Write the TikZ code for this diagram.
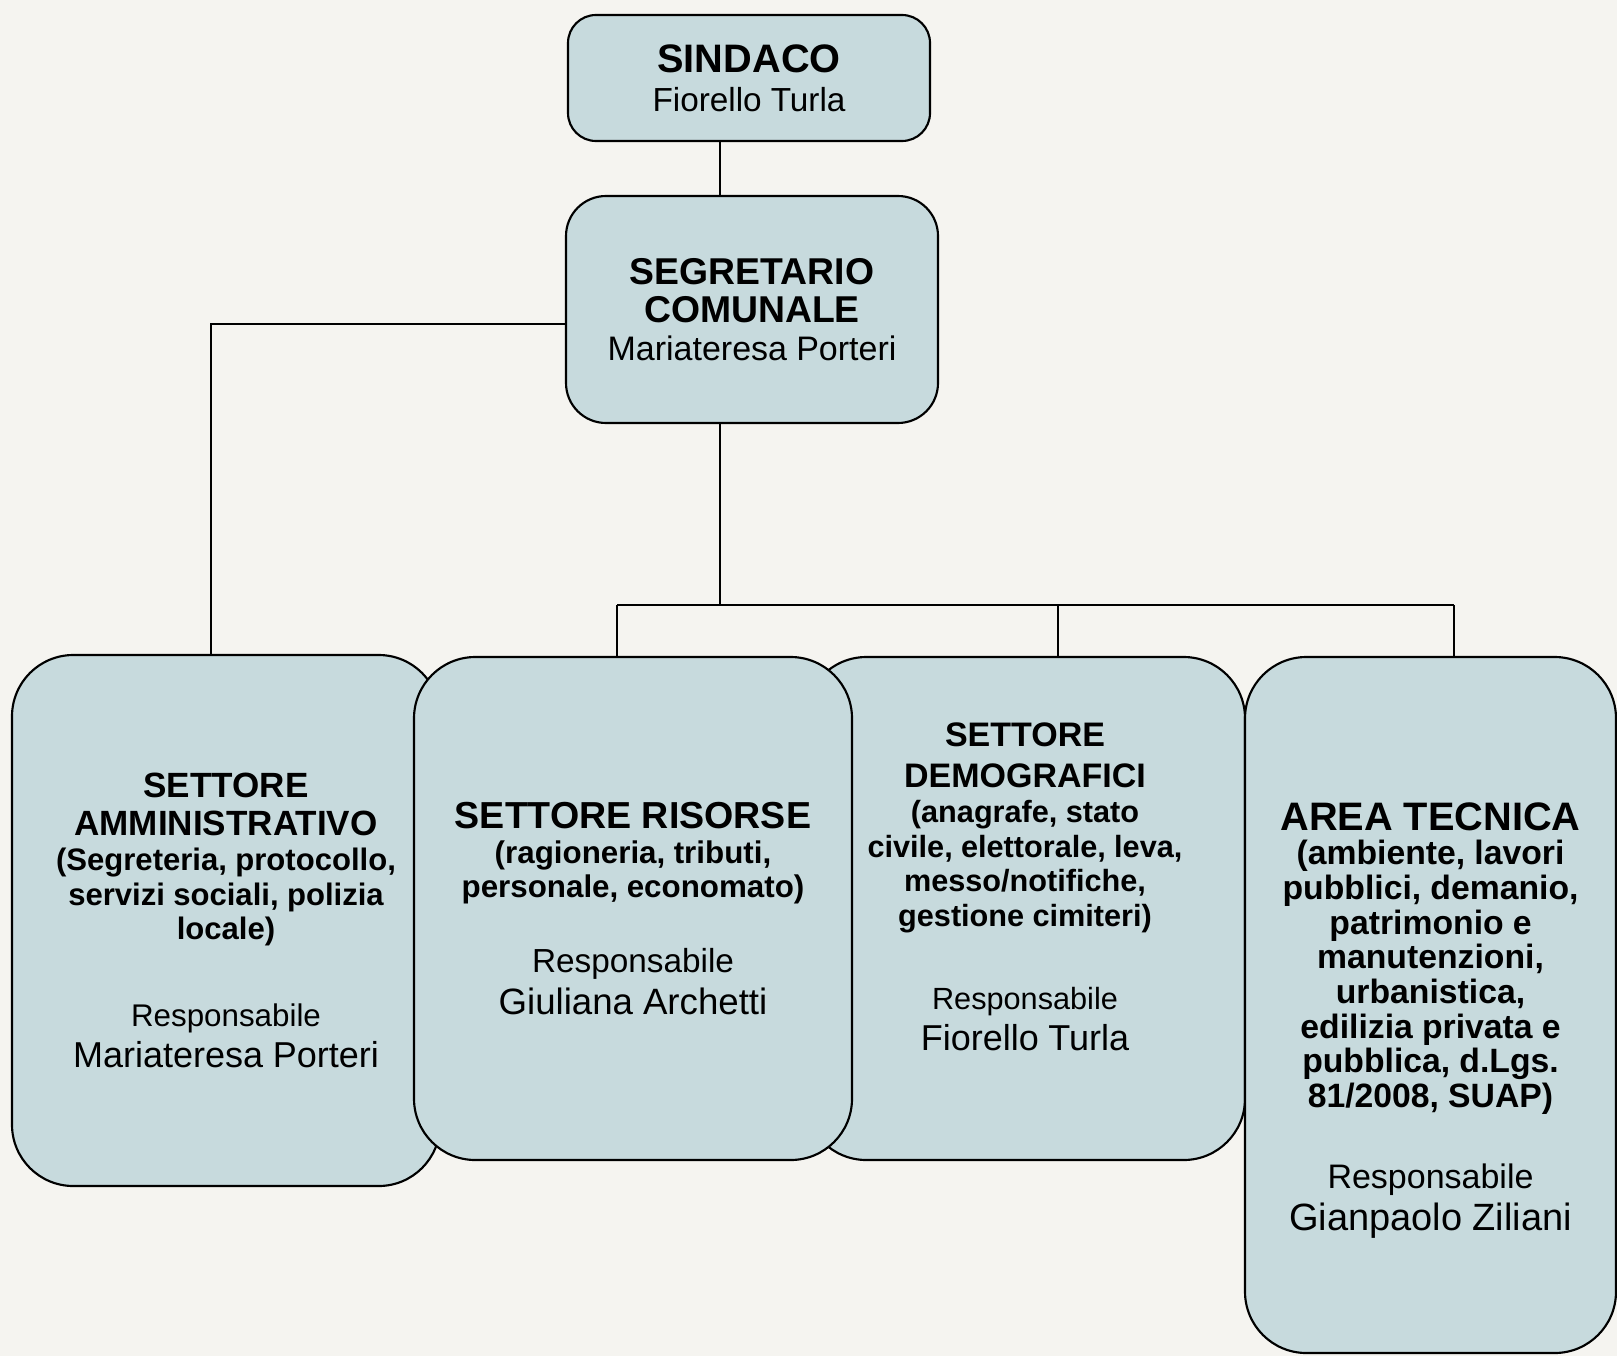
\documentclass[tikz,border=0pt]{standalone}
\usepackage{fontspec}
\setmainfont{Liberation Sans}
\setlength{\parindent}{0pt}
\definecolor{boxfill}{HTML}{C7DADD}
\definecolor{paper}{HTML}{F5F4F0}
\newcommand{\fsz}[2]{\fontsize{#1}{#2}\selectfont\spaceskip=0.27em\relax}

\begin{document}
\begin{tikzpicture}[x=0.75pt, y=-0.75pt,
    box/.style={draw, line width=1.6pt, fill=boxfill, outer sep=0pt, inner sep=0pt,
        align=center, rounded corners=46pt},
    link/.style={line width=1.2pt}]
    \fill[paper] (0,0) rectangle (1617,1356);
    \useasboundingbox (0,0) rectangle (1617,1356);
    \coordinate (spine) at (720,0);
    \coordinate (lft) at (211,324);
    \coordinate (bus) at (720,605);
    \coordinate (dr1) at (617,605);
    \coordinate (dr2) at (1058,605);
    \coordinate (dr3) at (1454,605);
    \node[box, rounded corners=21pt, minimum width=271.5pt, minimum height=94.5pt, text width=250pt]
        (sindaco) at (749,78)
        {\bfseries\fsz{29.8}{29}SINDACO\par\mdseries\fsz{25}{29}Fiorello Turla\par};
    \node[box, rounded corners=30pt, minimum width=279pt, minimum height=170.25pt, text width=260pt]
        (segretario) at (752,309.5)
        {\bfseries\fsz{28}{29}SEGRETARIO\\COMUNALE\par\mdseries\fsz{25.5}{28.5}Mariateresa Porteri\par};
    \node[box, minimum width=321pt, minimum height=398.25pt, text width=305pt]
        (amm) at (226,920.5)
        {\bfseries\fsz{26.3}{29}SETTORE\\AMMINISTRATIVO\par
         \fsz{23.3}{26}(Segreteria, protocollo,\\servizi sociali, polizia\\locale)\par
         \vspace{37pt}\mdseries\fsz{23.5}{28}Responsabile\par
         \fsz{27}{31}Mariateresa Porteri\par};
    \node[box, minimum width=330pt, minimum height=377.25pt, text width=310pt]
        (demo) at (1025,908.5)
        {\bfseries\fsz{25.5}{31}SETTORE\\DEMOGRAFICI\par
         \fsz{23}{26}(anagrafe, stato\\civile, elettorale, leva,\\messo/notifiche,\\gestione cimiteri)\par
         \vspace{34pt}\mdseries\fsz{23}{28}Responsabile\par
         \fsz{27}{31}Fiorello Turla\par\vspace{2pt}\mbox{}\par};
    \node[box, minimum width=328.5pt, minimum height=377.25pt, text width=315pt]
        (ris) at (633,908.5)
        {\bfseries\fsz{28.2}{29}SETTORE RISORSE\par
         \fsz{23.5}{26}(ragioneria, tributi,\\personale, economato)\par
         \vspace{28pt}\mdseries\fsz{25}{28}Responsabile\par
         \fsz{27.5}{31.5}Giuliana Archetti\par};
    \node[box, minimum width=278.25pt, minimum height=522pt, text width=270pt]
        (tec) at (1430.5,1005)
        {\bfseries\fsz{29.8}{29}AREA TECNICA\par
         \fsz{25.3}{26}(ambiente, lavori\\pubblici, demanio,\\patrimonio e\\manutenzioni,\\urbanistica,\\edilizia privata e\\pubblica, d.Lgs.\\81/2008, SUAP)\par
         \vspace{33pt}\mdseries\fsz{25.5}{28}Responsabile\par
         \fsz{28.5}{31}Gianpaolo Ziliani\par\vspace{-48pt}\mbox{}\par};
    \draw[link] (sindaco.south -| spine) -- (segretario.north -| spine);
    \draw[link] (segretario.west |- lft) -| (amm.north -| lft);
    \draw[link] (segretario.south -| spine) -- (bus);
    \draw[link] (dr1) -- (dr3);
    \foreach \n/\d in {ris/dr1, demo/dr2, tec/dr3}
        \draw[link] (\d) -- (\n.north -| \d);
\end{tikzpicture}
\end{document}
